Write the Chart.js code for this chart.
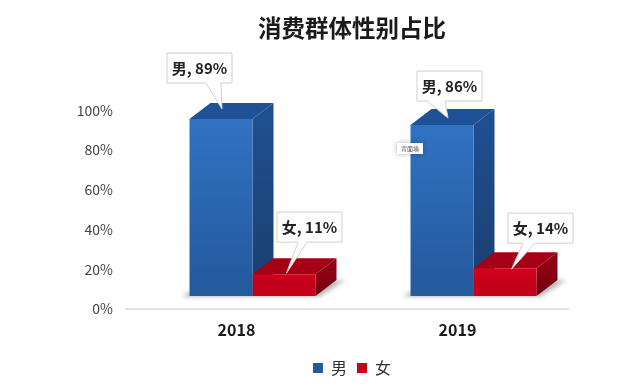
<!DOCTYPE html>
<html>
<head>
<meta charset="utf-8">
<style>
  html, body { margin: 0; padding: 0; background: #fff; }
  #wrap { position: relative; width: 630px; height: 386px; }
</style>
<script src="https://cdn.jsdelivr.net/npm/chart.js@4"></script>
</head>
<body>
<div id="wrap"><canvas id="chart" width="630" height="386"></canvas></div>
<script>
// data
const years = ['2018', '2019'];
const maleValues = [89, 86];
const femaleValues = [11, 14];
const seriesNames = ['男', '女'];
const yTicks = [0, 20, 40, 60, 80, 100];
const chartTitle = '消费群体性别占比';
const stickerText = '背面墙';

const FONT = '"Noto Sans CJK SC", "Noto Sans", sans-serif';

// the fake 3D look: fronts sit right of / above the real axis position
const SHIFT_X = 16, SHIFT_Y = -13;
const DEPTH_X = 21, DEPTH_Y = -16;

const faceColors = [
  { top: '#1f5196', side: ['#1f4f8e', '#1a3f70'], front: ['#3274c6', '#245a9e'] },
  { top: '#a60016', side: ['#8e0013', '#6a000d'], front: ['#e6001f', '#c4001a'] }
];

// callout placement, relative to the top centre of each bar's front face
const calloutSpots = [
  [{ bx: -21.5, by: -51, tx: 1, ty: -10, b0: 39, b1: 54 }, { bx: 7.5, by: -39, tx: 6, ty: -7, b0: 10, b1: 28 }],
  [{ bx: 25.5, by: -47, tx: 2.5, ty: -1, b0: 21, b1: 30 }, { bx: 35.5, by: -40, tx: 6.5, ty: 1, b0: 15, b1: 27 }]
];

function frontGradient(context, dsIndex) {
  const chart = context.chart;
  if (!chart.chartArea || context.parsed == null) return faceColors[dsIndex].front[0];
  const y = chart.scales.y;
  const g = chart.ctx.createLinearGradient(0, y.getPixelForValue(context.parsed.y) + SHIFT_Y, 0, y.getPixelForValue(0) + SHIFT_Y);
  g.addColorStop(0, faceColors[dsIndex].front[0]);
  g.addColorStop(1, faceColors[dsIndex].front[1]);
  return g;
}

const bars3d = {
  id: 'bars3d',
  beforeDatasetsDraw(chart) {
    const ctx = chart.ctx;
    const y0 = chart.scales.y.getPixelForValue(0) + SHIFT_Y;
    // floor shadows
    chart.getDatasetMeta(0).data.forEach((male, i) => {
      const female = chart.getDatasetMeta(1).data[i];
      const left = male.x - male.width / 2 + SHIFT_X;
      const right = female.x + female.width / 2 + SHIFT_X;
      ctx.save();
      ctx.filter = 'blur(2px)';
      ctx.fillStyle = 'rgba(90,90,90,0.45)';
      ctx.beginPath();
      ctx.moveTo(left - 8, y0 + 0.5);
      ctx.lineTo(left, y0 - 4);
      ctx.lineTo(right + 30, y0 - 16);
      ctx.lineTo(right + 4, y0 + 0.5);
      ctx.closePath();
      ctx.fill();
      ctx.restore();
    });
    // side and top faces, male first so the red bar's top lies over it
    [0, 1].forEach(ds => {
      chart.getDatasetMeta(ds).data.forEach(bar => {
        const l = bar.x - bar.width / 2 + SHIFT_X;
        const r = bar.x + bar.width / 2 + SHIFT_X;
        const t = bar.y + SHIFT_Y;
        const c = faceColors[ds];
        const g = ctx.createLinearGradient(0, t, 0, y0);
        g.addColorStop(0, c.side[0]);
        g.addColorStop(1, c.side[1]);
        ctx.fillStyle = g;
        ctx.beginPath();
        ctx.moveTo(r, t);
        ctx.lineTo(r + DEPTH_X, t + DEPTH_Y);
        ctx.lineTo(r + DEPTH_X, y0 + DEPTH_Y);
        ctx.lineTo(r, y0);
        ctx.closePath();
        ctx.fill();
        ctx.fillStyle = c.top;
        ctx.beginPath();
        ctx.moveTo(l, t);
        ctx.lineTo(l + DEPTH_X, t + DEPTH_Y);
        ctx.lineTo(r + DEPTH_X, t + DEPTH_Y);
        ctx.lineTo(r, t);
        ctx.closePath();
        ctx.fill();
      });
    });
    ctx.save();
    ctx.translate(SHIFT_X, SHIFT_Y);
  },
  afterDatasetsDraw(chart) {
    const ctx = chart.ctx;
    ctx.restore();
    // callouts
    [0, 1].forEach(ds => {
      chart.getDatasetMeta(ds).data.forEach((bar, i) => {
        const s = calloutSpots[ds][i];
        const cx = bar.x + SHIFT_X, cy = bar.y + SHIFT_Y;
        const w = 65, h = 30;
        const x = cx + s.bx - w / 2, y = cy + s.by - h / 2;
        ctx.save();
        ctx.fillStyle = '#fff';
        ctx.strokeStyle = '#cfcfcf';
        ctx.lineWidth = 1;
        ctx.beginPath();
        ctx.moveTo(x, y);
        ctx.lineTo(x + w, y);
        ctx.lineTo(x + w, y + h);
        ctx.lineTo(x + s.b1, y + h);
        ctx.lineTo(cx + s.tx, cy + s.ty);
        ctx.lineTo(x + s.b0, y + h);
        ctx.lineTo(x, y + h);
        ctx.closePath();
        ctx.fill();
        ctx.stroke();
        ctx.fillStyle = '#222';
        ctx.font = 'bold 15px ' + FONT;
        ctx.textAlign = 'center';
        ctx.textBaseline = 'middle';
        const vals = chart.data.datasets[ds].data;
        ctx.fillText(seriesNames[ds] + ', ' + vals[i] + '%', x + w / 2, y + h / 2);
        ctx.restore();
      });
    });
    // little sticker stuck on the 2019 bar
    const sb = chart.getDatasetMeta(0).data[1];
    const sx = sb.x + SHIFT_X - 45, sy = sb.y + SHIFT_Y + 18;
    ctx.save();
    ctx.shadowColor = 'rgba(0,0,0,0.3)';
    ctx.shadowBlur = 5;
    ctx.fillStyle = '#fff';
    ctx.fillRect(sx, sy, 26, 11);
    ctx.shadowColor = 'transparent';
    ctx.fillStyle = '#555';
    ctx.font = '6px ' + FONT;
    ctx.textAlign = 'center';
    ctx.textBaseline = 'middle';
    ctx.fillText(stickerText, sx + 13, sy + 5.5);
    ctx.restore();
  }
};

new Chart(document.getElementById('chart').getContext('2d'), {
  type: 'bar',
  data: {
    labels: years,
    datasets: [
      { label: seriesNames[0], data: maleValues, backgroundColor: c => frontGradient(c, 0), clip: false },
      { label: seriesNames[1], data: femaleValues, backgroundColor: c => frontGradient(c, 1), clip: false }
    ]
  },
  options: {
    responsive: false,
    animation: false,
    // uneven padding pushes title and legend to the right like the original
    layout: { padding: { left: 64, right: -10, top: 0, bottom: 0 } },
    datasets: { bar: { categoryPercentage: 0.57, barPercentage: 1 } },
    scales: {
      x: {
        grid: { display: false },
        border: { color: '#dfe3e8', width: 2 },
        ticks: { color: '#1a1a1a', font: { family: FONT, size: 16, weight: 'bold' }, padding: 3 },
        afterFit(scale) { scale.height = 41; }
      },
      y: {
        min: 0,
        max: 100,
        afterBuildTicks(scale) { scale.ticks = yTicks.map(v => ({ value: v })); },
        grid: { display: false },
        border: { display: false },
        ticks: { color: '#444', font: { family: FONT, size: 14 }, padding: 5, callback: v => v + '%' },
        afterFit(scale) { scale.width = 62; }
      },
      // empty axis, only holds the right margin
      spacer: {
        type: 'linear',
        position: 'right',
        grid: { display: false },
        border: { display: false },
        ticks: { display: false },
        afterFit(scale) { scale.width = 72; }
      }
    },
    plugins: {
      title: {
        display: true,
        text: chartTitle,
        color: '#1a1a1a',
        font: { family: FONT, size: 23.5, weight: 'bold' },
        padding: { top: 14, bottom: 68 }
      },
      legend: {
        position: 'bottom',
        labels: { boxWidth: 10, boxHeight: 10, padding: 10, color: '#333', font: { family: FONT, size: 16 } }
      },
      tooltip: { enabled: false }
    }
  },
  plugins: [bars3d]
});
</script>
</body>
</html>
